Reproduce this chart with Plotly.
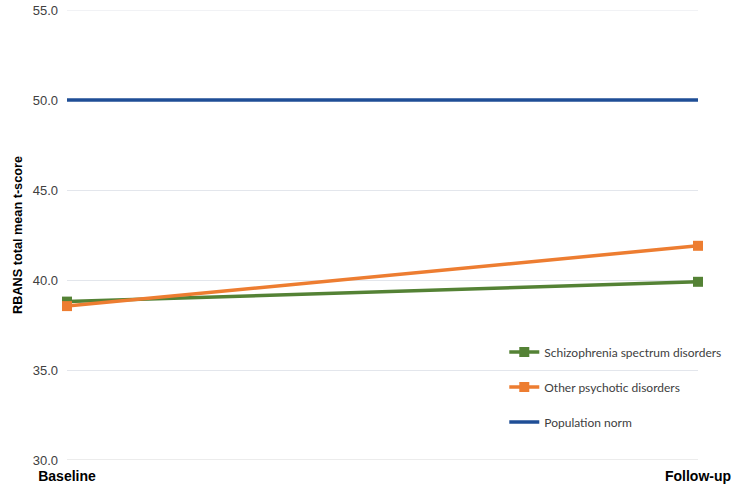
import plotly.graph_objects as go

timepoints = ["Baseline", "Follow-up"]
schizo = [38.8, 39.9]
other_psych = [38.55, 41.9]
pop_norm = [50.0, 50.0]

fig = go.Figure()
fig.add_trace(go.Scatter(x=timepoints, y=schizo, name="Schizophrenia spectrum disorders",
                         mode="lines+markers", legendgroup="a", cliponaxis=False,
                         line=dict(color="#548235", width=3.5),
                         marker=dict(symbol="square", size=10, color="#548235")))
fig.add_trace(go.Scatter(x=timepoints, y=other_psych, name="Other psychotic disorders",
                         mode="lines+markers", legendgroup="b", cliponaxis=False,
                         line=dict(color="#ED7D31", width=3.5),
                         marker=dict(symbol="square", size=10, color="#ED7D31")))
fig.add_trace(go.Scatter(x=timepoints, y=pop_norm, name="Population norm",
                         mode="lines", legendgroup="c",
                         line=dict(color="#1F4E96", width=3.5)))

fig.update_layout(
    width=733, height=488,
    margin=dict(l=67, r=35, t=10, b=28, autoexpand=False),
    plot_bgcolor="white", paper_bgcolor="white",
    font=dict(family="Liberation Sans, Arial, sans-serif", color="#404040"),
    legend=dict(x=0.693, y=0.272, xanchor="left", yanchor="top",
                font=dict(family="Lato, sans-serif", size=12, color="#404040"),
                tracegroupgap=16, itemwidth=30, bgcolor="rgba(0,0,0,0)"),
    xaxis=dict(type="category", range=[0, 1], showgrid=False, showline=False,
               zeroline=False, ticks="",
               tickfont=dict(size=14, color="black", weight="bold",
                             family="Liberation Sans, Arial, sans-serif"),
               ticklabelstandoff=6),
    yaxis=dict(range=[30, 55], dtick=5, tickformat=".1f", showgrid=True,
               gridcolor="#E3E6EC", gridwidth=1, zeroline=False, showline=False,
               tickfont=dict(size=13, color="#404040"), ticklabelstandoff=8,
               title=dict(text="<b>RBANS total mean t-score</b>", standoff=7,
                          font=dict(size=12.7, color="black"))),
)
# edge gridlines plotly leaves out
fig.add_hline(y=30, line=dict(color="#D9D9D9", width=1), layer="below")
fig.add_hline(y=55, line=dict(color="#E3E6EC", width=1), layer="below")
# drop the default body margin so the figure sits at the window's corner
fig.write_html("out.html", config={"displayModeBar": False},
               post_script="document.body.style.margin='0';")
